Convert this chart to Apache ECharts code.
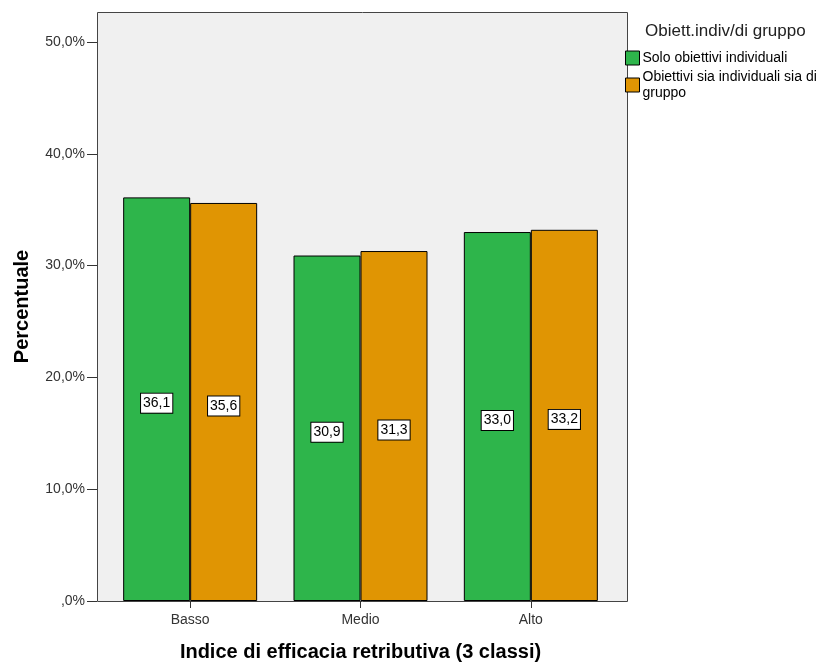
<!DOCTYPE html>
<html>
<head>
<meta charset="utf-8">
<script src="https://cdn.jsdelivr.net/npm/echarts@6/dist/echarts.min.js"></script>
<style>
  html, body { margin: 0; padding: 0; background: #fff; }
  #chart { width: 823px; height: 662px; }
</style>
</head>
<body>
<div id="chart"></div>
<script>
// Categories and series values (percentages)
const categories = ['Basso', 'Medio', 'Alto'];
const soloIndividuali = [36.1, 30.9, 33.0];
const individualiEGruppo = [35.6, 31.3, 33.2];
const yTicks = [0, 10, 20, 30, 40, 50];
const seriesNames = ['Solo obiettivi individuali', 'Obiettivi sia individuali sia di\ngruppo'];

const fmtPct = v => (v === 0 ? ',0%' : v.toFixed(1).replace('.', ',') + '%');
const fmtVal = v => v.toFixed(1).replace('.', ',');

const chart = echarts.init(document.getElementById('chart'), null, { renderer: 'canvas' });

const barLabel = {
  show: true,
  position: 'inside',
  offset: [0, 4],
  formatter: p => fmtVal(p.value),
  color: '#000',
  fontSize: 14,
  fontFamily: 'Liberation Sans, Arial, sans-serif',
  backgroundColor: '#fff',
  borderColor: '#000',
  borderWidth: 1,
  padding: [3, 2, 2, 2]
};

chart.setOption({
  animation: false,
  textStyle: { fontFamily: 'Liberation Sans, Arial, sans-serif' },
  // plot frame and background
  graphic: [{
    type: 'rect',
    z: -10,
    silent: true,
    shape: { x: 97.5, y: 12.5, width: 530, height: 589 },
    style: { fill: '#f0f0f0', stroke: '#444', lineWidth: 1 }
  }],
  grid: { left: 105, top: 12, width: 511, height: 589, outerBoundsMode: 'none', containLabel: false },
  legend: {
    orient: 'vertical',
    left: 625,
    top: 50,
    padding: 0,
    itemWidth: 14,
    itemHeight: 14,
    itemGap: 3,
    icon: 'rect',
    itemStyle: { borderColor: '#000', borderWidth: 1 },
    textStyle: { fontSize: 14, color: '#000', lineHeight: 16, padding: [0, 0, 0, -2] },
    data: seriesNames
  },
  title: {
    text: 'Obiett.indiv/di gruppo',
    left: 645,
    top: 23,
    padding: 0,
    textStyle: { fontSize: 17, fontWeight: 'normal', color: '#222' }
  },
  xAxis: {
    type: 'category',
    data: categories,
    name: 'Indice di efficacia retributiva (3 classi)',
    nameLocation: 'middle',
    nameGap: 41,
    nameTextStyle: { fontSize: 20, fontWeight: 'bold', color: '#000' },
    axisLine: { show: false },
    axisTick: { show: true, alignWithLabel: true, length: 7, lineStyle: { color: '#333' } },
    axisLabel: { fontSize: 14, color: '#333', margin: 12 }
  },
  yAxis: {
    type: 'value',
    min: 0,
    max: 52.68,
    interval: 10,
    offset: 8,
    name: 'Percentuale',
    nameLocation: 'middle',
    nameRotate: 90,
    nameGap: 65,
    nameTextStyle: { fontSize: 20, fontWeight: 'bold', color: '#000' },
    splitLine: { show: false },
    axisLine: { show: false },
    axisTick: { show: true, length: 10, lineStyle: { color: '#333' }, customValues: yTicks },
    axisLabel: { fontSize: 14, color: '#333', margin: 12, formatter: fmtPct, customValues: yTicks }
  },
  series: [
    {
      name: seriesNames[0],
      type: 'bar',
      data: soloIndividuali,
      barWidth: 67,
      barGap: '0%',
      itemStyle: { color: '#2eb54b', borderColor: '#000', borderWidth: 1 },
      label: barLabel
    },
    {
      name: seriesNames[1],
      type: 'bar',
      data: individualiEGruppo,
      barWidth: 67,
      barGap: '0%',
      itemStyle: { color: '#e09503', borderColor: '#000', borderWidth: 1 },
      label: barLabel
    }
  ]
});
</script>
</body>
</html>
